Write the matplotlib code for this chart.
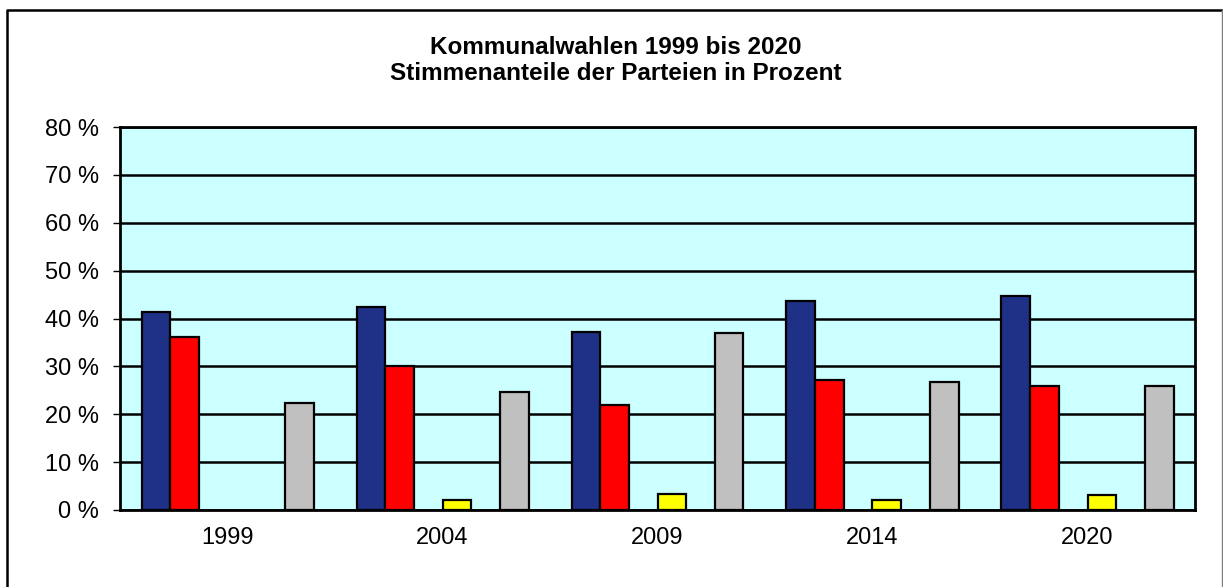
import matplotlib
matplotlib.use("Agg")
import matplotlib.pyplot as plt
from matplotlib.lines import Line2D
import numpy as np

plt.rcParams['font.family'] = ['Liberation Sans', 'DejaVu Sans']

years = ["1999", "2004", "2009", "2014", "2020"]
blue_vals = [41.4, 42.5, 37.1, 43.6, 44.6]
red_vals = [36.2, 30.0, 22.0, 27.1, 25.9]
yellow_vals = [np.nan, 2.1, 3.4, 2.0, 3.1]
gray_vals = [22.4, 24.7, 37.0, 26.8, 25.9]
yticks = [0, 10, 20, 30, 40, 50, 60, 70, 80]

series = [
    (blue_vals, "#1F3187", 0),
    (red_vals, "#FF0000", 1),
    (yellow_vals, "#FFFF00", 3),
    (gray_vals, "#C0C0C0", 5),
]
n_slots = 6
group_w = 0.8
bw = group_w / n_slots

W, H = 1223, 587
fig = plt.figure(figsize=(W / 100, H / 100), dpi=100)
ax = fig.add_axes([120 / W, 1 - 510 / H, (1195 - 120) / W, (510 - 127) / H])
ax.set_facecolor("#CCFFFF")

x = np.arange(len(years))
for vals, color, slot in series:
    offs = -group_w / 2 + bw * (slot + 0.5)
    ax.bar(x + offs, vals, width=bw, color=color, edgecolor="black",
           linewidth=1.6, zorder=3)

ax.set_xlim(-0.5, len(years) - 0.5)
ax.set_ylim(0, 80)
ax.set_yticks(yticks)
ax.set_yticklabels([f"{v} %" for v in yticks], fontsize=17)
ax.set_xticks(x)
ax.set_xticklabels(years, fontsize=17)
ax.tick_params(axis="x", length=0, pad=12)
ax.tick_params(axis="y", length=5, width=1, pad=10)
ax.yaxis.grid(True, color="black", linewidth=1.8, zorder=1)
ax.set_axisbelow(True)
for s in ax.spines.values():
    s.set_linewidth(2)
    s.set_color("black")

fig.text(616 / W, 1 - 47 / H, "Kommunalwahlen 1999 bis 2020", ha="center",
         va="center", fontsize=17.5, fontweight="bold")
fig.text(616 / W, 1 - 74 / H, "Stimmenanteile der Parteien in Prozent", ha="center",
         va="center", fontsize=17.5, fontweight="bold")

# outer frame (left/top black, right gray, open at the bottom)
fig.add_artist(Line2D([7 / W, 7 / W, 1222 / W], [0, 1 - 10 / H, 1 - 10 / H],
                      transform=fig.transFigure, color="black", linewidth=1.8))
fig.add_artist(Line2D([1222 / W, 1222 / W], [1 - 10 / H, 0],
                      transform=fig.transFigure, color="#808080", linewidth=1.0))

fig.savefig("out.png", dpi=100, facecolor="white")
